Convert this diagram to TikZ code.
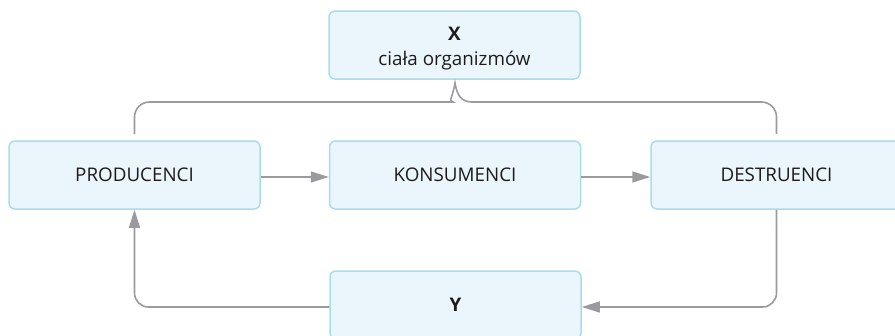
\documentclass[tikz,border=0pt]{standalone}
\usepackage{fontspec}
\setmainfont{Open Sans}
\usetikzlibrary{arrows.meta}
\definecolor{boxfill}{HTML}{EAF6FC}
\definecolor{boxline}{HTML}{A9DCEF}
\definecolor{conngray}{HTML}{9B9B9F}
\definecolor{txt}{HTML}{1F1B1C}
\begin{document}
\begin{tikzpicture}[x=1pt,y=-1pt,
  lbl/.style={text=txt, font=\fontsize{18.8}{25}\selectfont, align=center, inner sep=0pt},
  box/.style={draw=boxline, fill=boxfill, line width=1.5pt, rounded corners=6pt,
    minimum width=251pt, minimum height=68pt, inner sep=0pt, lbl},
  conn/.style={draw=conngray, line width=1.6pt},
  arr/.style={conn, -{Triangle[length=18pt,width=11pt]}}]
\useasboundingbox (0,0) rectangle (895,335);
\clip (0,0) rectangle (895,335);
\node[box, label={[lbl, anchor=center, yshift=-4pt]center:{\textbf{X}\\ciała organizmów}}] (X) at (454.5,45) {};
\node[box] (P) at (134.5,175) {PRODUCENCI};
\node[box] (K) at (455,175) {KONSUMENCI};
\node[box] (D) at (776.5,175) {DESTRUENCI};
\node[box] (Y) at (455.5,305) {\textbf{Y}};
\coordinate (tip) at (455,83);
\draw[conn] (P.north |- 0,134) [rounded corners=15pt] |- (438,102) [sharp corners]
  .. controls (448,102) and (453,96) .. (tip)
  .. controls (457,96) and (462,102) .. (472,102) [rounded corners=15pt] -| (D.north |- 0,134);
\draw[arr] (P.east |- 0,177) -- (K.west |- 0,177);
\draw[arr] (K.east |- 0,177) -- (D.west |- 0,177);
\draw[arr, rounded corners=14pt] (D.south) |- (Y.east |- 0,307);
\draw[arr, rounded corners=14pt] (Y.west |- 0,307) -| (P.south);
\end{tikzpicture}
\end{document}
